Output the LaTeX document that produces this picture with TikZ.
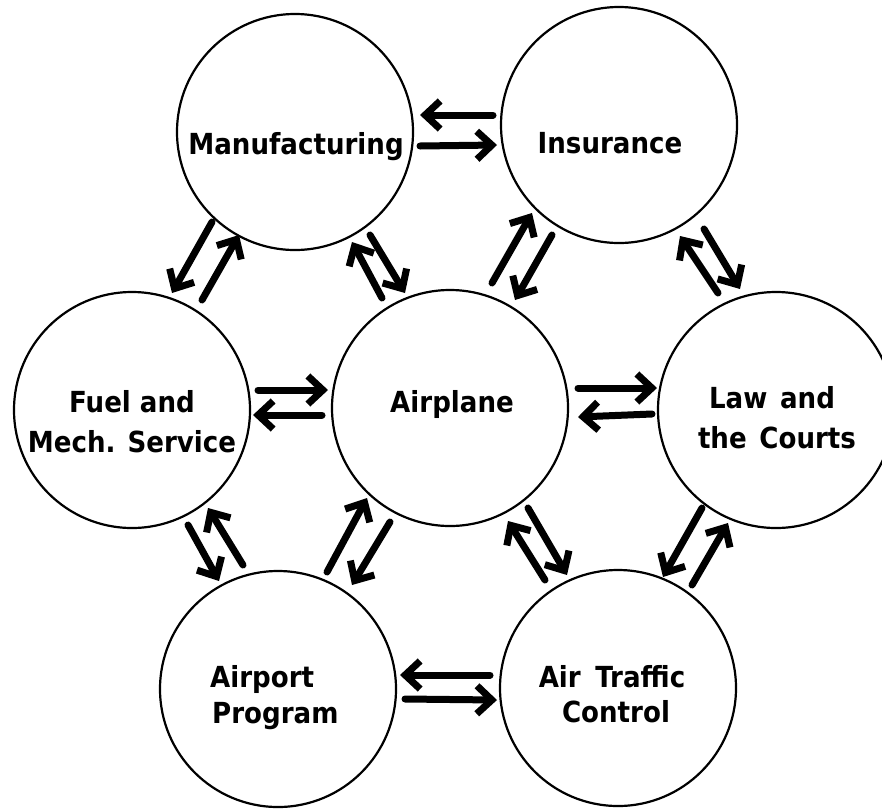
\documentclass[tikz,border=0pt]{standalone}
\usepackage{fontspec}
\newfontfamily\labfont{DejaVu Sans}
\usetikzlibrary{arrows.meta,calc}
\newcommand\lbl[1]{\scalebox{0.9}[1]{#1}}
\tikzset{
  bub/.style={circle, draw, line width=2.2pt, minimum size=236pt, inner sep=0pt},
  lab/.style={anchor=base, inner sep=0pt, font={\labfont\bfseries\fontsize{29}{32}\selectfont}},
  labw/.style={lab, anchor=base west},
  flow/.style={line width=7pt, line cap=round, line join=round, -{Straight Barb[length=15pt,width=28pt]}}
}
\begin{document}
\begin{tikzpicture}[x=1pt, y=-1pt]
\useasboundingbox (0,0) rectangle (882,809);
% circles
\node[bub] (mf)  at (295,132) {};
\node[bub] (ins) at (619,125) {};
\node[bub] (fu)  at (132,410) {};
\node[bub] (ap)  at (450,408) {};
\node[bub] (law) at (776,410) {};
\node[bub] (prg) at (278,689) {};
\node[bub] (atc) at (618,688) {};
% labels
\node[lab] (t-mf)   at (296,154) {\lbl{Manufacturing}};
\node[lab] (t-ins)  at (610,153) {\lbl{Insurance}};
\node[lab] (t-ap)   at (452,412) {\lbl{Airplane}};
\node[lab] (t-fu1)  at (132,412) {\lbl{Fuel and}};
\node[lab] (t-fu2)  at (132,452) {\lbl{Mech. Service}};
\node[lab] (t-law1) at (772,408) {\lbl{Law\hspace{4pt} and}};
\node[lab] (t-law2) at (777,448) {\lbl{the\hspace{4pt} Courts}};
\node[labw] (t-prg1) at (210,687) {\lbl{Airport}};
\node[labw] (t-prg2) at (212,723) {\lbl{Program}};
\node[lab] (t-atc1) at (612,687) {\lbl{Air\hspace{6pt} Traffic}};
\node[lab] (t-atc2) at (616,722) {\lbl{Control}};
% arrows
\draw[flow] ($(mf)+(125,14)$) -- ($(ins)+(-122,20)$);
\draw[flow] ($(ins)+(-126,-10)$) -- ($(mf)+(125,-17)$);
\draw[flow] ($(mf)+(-83,90)$) -- ($(fu)+(40,-117)$);
\draw[flow] ($(fu)+(70,-110)$) -- ($(mf)+(-56,103)$);
\draw[flow] ($(ap)+(-68,-110)$) -- ($(mf)+(57,110)$);
\draw[flow] ($(mf)+(75,103)$) -- ($(ap)+(-45,-115)$);
\draw[flow] ($(ap)+(42,-125)$) -- ($(ins)+(-87,88)$);
\draw[flow] ($(ins)+(-67,110)$) -- ($(ap)+(65,-108)$);
\draw[flow] ($(law)+(-58,-117)$) -- ($(ins)+(61,111)$);
\draw[flow] ($(ins)+(85,104)$) -- ($(law)+(-36,-121)$);
\draw[flow] ($(fu)+(126,-20)$) -- ($(ap)+(-122,-18)$);
\draw[flow] ($(ap)+(-128,7)$) -- ($(fu)+(121,5)$);
\draw[flow] ($(ap)+(128,-20)$) -- ($(law)+(-119,-22)$);
\draw[flow] ($(law)+(-124,4)$) -- ($(ap)+(128,9)$);
\draw[flow] ($(fu)+(56,115)$) -- ($(prg)+(-59,-108)$);
\draw[flow] ($(prg)+(-35,-124)$) -- ($(fu)+(76,98)$);
\draw[flow] ($(prg)+(49,-117)$) -- ($(ap)+(-83,90)$);
\draw[flow] ($(ap)+(-60,114)$) -- ($(prg)+(74,-104)$);
\draw[flow] ($(atc)+(-73,-108)$) -- ($(ap)+(58,113)$);
\draw[flow] ($(ap)+(78,100)$) -- ($(atc)+(-51,-113)$);
\draw[flow] ($(law)+(-74,98)$) -- ($(atc)+(45,-111)$);
\draw[flow] ($(atc)+(74,-103)$) -- ($(law)+(-48,113)$);
\draw[flow] ($(atc)+(-128,-13)$) -- ($(prg)+(122,-14)$);
\draw[flow] ($(prg)+(127,10)$) -- ($(atc)+(-121,12)$);
\end{tikzpicture}
\end{document}
